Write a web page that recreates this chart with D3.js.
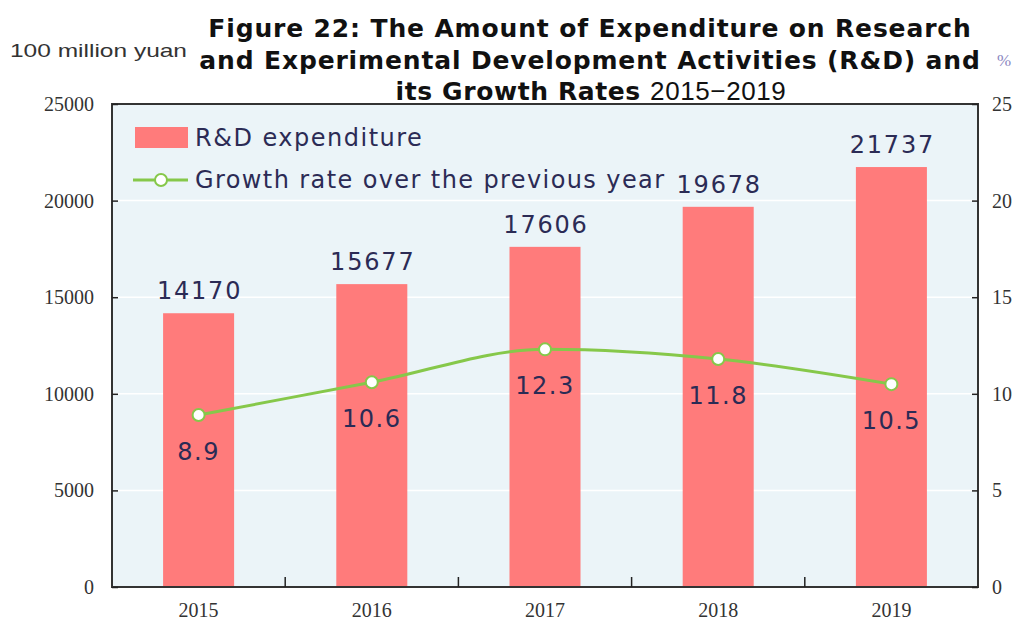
<!DOCTYPE html>
<html>
<head>
<meta charset="utf-8">
<script src="https://cdn.jsdelivr.net/npm/d3@7"></script>
<style>
  body { margin: 0; background: #fff; }
  svg { display: block; }
</style>
</head>
<body>
<div id="container"></div>
<script>
    // Data
    let years = ["2015", "2016", "2017", "2018", "2019"];
    let expenditure = [14170, 15677, 17606, 19678, 21737];
    let growth = [8.9, 10.6, 12.3, 11.8, 10.5];
    let leftTicks = [0, 5000, 10000, 15000, 20000, 25000];
    let rightTicks = [0, 5, 10, 15, 20, 25];
    let titleLines = [
        "Figure 22: The Amount of Expenditure on Research",
        "and Experimental Development Activities (R&D) and"
    ];

    let W = 1021, H = 621;
    let plot = { left: 112, right: 978, top: 104, bottom: 587 };

    let svg = d3.select("#container")
        .append("svg")
        .attr("width", W)
        .attr("height", H);

    let x = d3.scaleBand()
        .domain(years)
        .range([plot.left, plot.right])
        .paddingInner(0.59)
        .paddingOuter(0.295);

    let yLeft = d3.scaleLinear().domain([0, 25000]).range([plot.bottom, plot.top]);
    let yRight = d3.scaleLinear().domain([0, 25]).range([plot.bottom, plot.top]);

    // background
    svg.append("rect")
        .attr("x", plot.left).attr("y", plot.top)
        .attr("width", plot.right - plot.left)
        .attr("height", plot.bottom - plot.top)
        .attr("fill", "#ebf4f8");

    // grid lines
    svg.selectAll(".grid")
        .data(leftTicks.slice(1, -1))
        .enter()
        .append("line")
        .attr("x1", plot.left).attr("x2", plot.right)
        .attr("y1", d => yLeft(d)).attr("y2", d => yLeft(d))
        .attr("stroke", "#fff")
        .attr("stroke-width", 1.5);

    // bars
    svg.selectAll(".bar")
        .data(expenditure)
        .enter()
        .append("rect")
        .attr("x", (d, i) => x(years[i]))
        .attr("y", d => yLeft(d))
        .attr("width", x.bandwidth())
        .attr("height", d => plot.bottom - yLeft(d))
        .attr("fill", "#ff7b7b");

    // bar labels
    svg.selectAll(".barlabel")
        .data(expenditure)
        .enter()
        .append("text")
        .attr("x", (d, i) => x(years[i]) + x.bandwidth() / 2 + 1)
        .attr("y", d => yLeft(d) - 14)
        .attr("text-anchor", "middle")
        .attr("font-family", "DejaVu Sans")
        .attr("font-size", 24)
        .attr("letter-spacing", 1.8)
        .attr("fill", "#2b2b55")
        .text(d => d);

    // growth line
    let cx = (d, i) => x(years[i]) + x.bandwidth() / 2;
    let line = d3.line()
        .x(cx)
        .y(d => yRight(d))
        .curve(d3.curveMonotoneX);

    svg.append("path")
        .datum(growth)
        .attr("d", line)
        .attr("fill", "none")
        .attr("stroke", "#86c84a")
        .attr("stroke-width", 3);

    svg.selectAll(".pt")
        .data(growth)
        .enter()
        .append("circle")
        .attr("cx", cx)
        .attr("cy", d => yRight(d))
        .attr("r", 6)
        .attr("fill", "#fff")
        .attr("stroke", "#86c84a")
        .attr("stroke-width", 2);

    svg.selectAll(".ptlabel")
        .data(growth)
        .enter()
        .append("text")
        .attr("x", cx)
        .attr("y", d => yRight(d) + 45)
        .attr("text-anchor", "middle")
        .attr("font-family", "DejaVu Sans")
        .attr("font-size", 24)
        .attr("letter-spacing", 1.5)
        .attr("fill", "#2b2b55")
        .text(d => d.toFixed(1));

    // frame
    svg.append("rect")
        .attr("x", plot.left).attr("y", plot.top)
        .attr("width", plot.right - plot.left)
        .attr("height", plot.bottom - plot.top)
        .attr("fill", "none")
        .attr("stroke", "#333")
        .attr("stroke-width", 2);

    // left axis
    let leftAxis = svg.append("g")
        .attr("transform", `translate(${plot.left},0)`)
        .call(d3.axisLeft(yLeft).tickValues(leftTicks).tickFormat(d3.format("d")).tickSize(-6).tickPadding(18));
    leftAxis.select(".domain").remove();

    // right axis
    let rightAxis = svg.append("g")
        .attr("transform", `translate(${plot.right},0)`)
        .call(d3.axisRight(yRight).tickValues(rightTicks).tickSize(-6).tickPadding(14));
    rightAxis.select(".domain").remove();

    // bottom axis: ticks at band boundaries
    let bounds = years.slice(1).map(y => x(y) - x.step() * x.paddingInner() / 2);
    svg.selectAll(".xtick")
        .data(bounds)
        .enter()
        .append("line")
        .attr("x1", d => d).attr("x2", d => d)
        .attr("y1", plot.bottom).attr("y2", plot.bottom - 10)
        .attr("stroke", "#222")
        .attr("stroke-width", 1.5);

    svg.selectAll(".xlabel")
        .data(years)
        .enter()
        .append("text")
        .attr("x", d => x(d) + x.bandwidth() / 2)
        .attr("y", 617)
        .attr("text-anchor", "middle")
        .attr("font-family", "Liberation Serif")
        .attr("font-size", 20)
        .attr("fill", "#333")
        .text(d => d);

    svg.selectAll(".tick text")
        .attr("font-family", "Liberation Serif")
        .attr("font-size", 20)
        .attr("fill", "#333");
    svg.selectAll(".tick line").attr("stroke", "#222").attr("stroke-width", 1.5);

    // unit labels
    svg.append("text")
        .attr("x", 10).attr("y", 57)
        .attr("font-family", "Liberation Sans")
        .attr("font-size", 19)
        .attr("textLength", 177)
        .attr("lengthAdjust", "spacingAndGlyphs")
        .attr("fill", "#333")
        .text("100 million yuan");

    svg.append("text")
        .attr("x", 1004).attr("y", 66)
        .attr("text-anchor", "middle")
        .attr("font-family", "Liberation Serif")
        .attr("font-size", 17)
        .attr("fill", "#8a86c0")
        .text("%");

    // title
    svg.selectAll(".title")
        .data(titleLines)
        .enter()
        .append("text")
        .attr("x", 590)
        .attr("y", (d, i) => 37 + i * 32)
        .attr("text-anchor", "middle")
        .attr("font-family", "DejaVu Sans")
        .attr("font-weight", "bold")
        .attr("font-size", 25)
        .attr("letter-spacing", 0.85)
        .attr("fill", "#111")
        .text(d => d);

    let t3 = svg.append("text")
        .attr("x", 591)
        .attr("y", 100)
        .attr("text-anchor", "middle")
        .attr("font-family", "DejaVu Sans")
        .attr("font-size", 25)
        .attr("letter-spacing", 0.6)
        .attr("fill", "#111");
    t3.append("tspan").attr("font-weight", "bold").text("its Growth Rates ");
    t3.append("tspan").attr("font-family", "Liberation Sans").attr("font-size", 26).text("2015\u22122019");

    // legend
    let lg = svg.append("g");
    lg.append("rect")
        .attr("x", 135).attr("y", 127)
        .attr("width", 53).attr("height", 21)
        .attr("fill", "#ff7b7b");
    lg.append("text")
        .attr("x", 195).attr("y", 146)
        .attr("font-family", "DejaVu Sans")
        .attr("font-size", 24)
        .attr("letter-spacing", 1.5)
        .attr("fill", "#2b2b55")
        .text("R&D expenditure");
    lg.append("line")
        .attr("x1", 133).attr("x2", 188)
        .attr("y1", 180).attr("y2", 180)
        .attr("stroke", "#86c84a")
        .attr("stroke-width", 3);
    lg.append("circle")
        .attr("cx", 161).attr("cy", 180).attr("r", 6)
        .attr("fill", "#fff")
        .attr("stroke", "#86c84a")
        .attr("stroke-width", 2);
    lg.append("text")
        .attr("x", 195).attr("y", 188)
        .attr("font-family", "DejaVu Sans")
        .attr("font-size", 24)
        .attr("letter-spacing", 1.4)
        .attr("fill", "#2b2b55")
        .text("Growth rate over the previous year");
</script>
</body>
</html>
